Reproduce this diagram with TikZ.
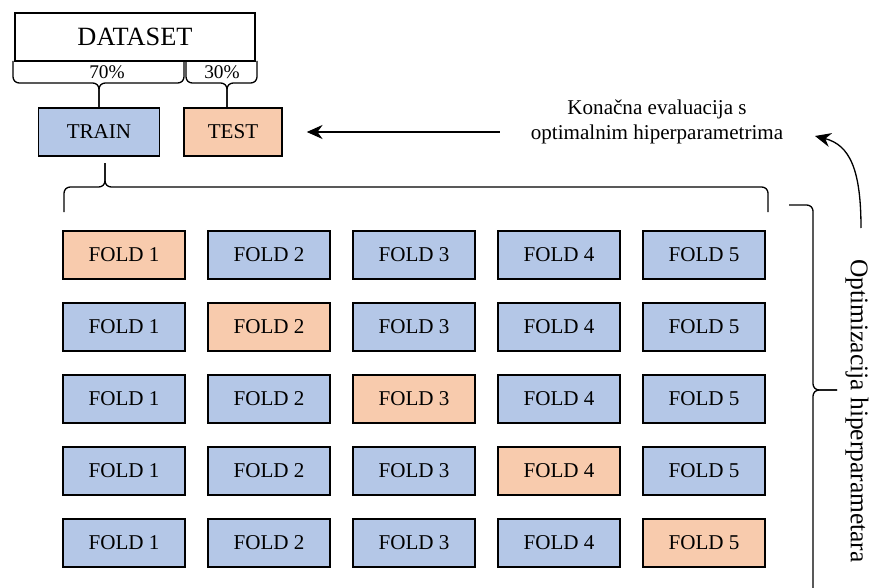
\documentclass[tikz,border=0pt]{standalone}
\usepackage{fontspec}
\setmainfont{Liberation Serif}
\usetikzlibrary{arrows.meta}
\definecolor{trainblue}{HTML}{B4C7E7}
\definecolor{testorange}{HTML}{F8CBAD}
\begin{document}
\begin{tikzpicture}[x=0.02cm,y=-0.02cm,
		box/.style={draw,line width=0.9pt,minimum height=0.96cm,inner sep=0pt,font=\fontsize{12}{14.5}\selectfont},
		fold/.style={box,minimum width=2.44cm},
		brc/.style={line width=0.75pt,rounded corners=3.5pt},
		arr/.style={line width=0.75pt,-{Stealth[length=9pt,width=8pt]}}]
			\useasboundingbox (0,0) rectangle (872,588);
			\node[box,minimum width=4.8cm,font=\fontsize{15}{18}\selectfont] (data) at (135,37) {DATASET};
			\node[box,fill=trainblue,minimum width=2.42cm] (train) at (99,132) {TRAIN};
			\node[box,fill=testorange,minimum width=1.96cm] (test) at (233,132) {TEST};
			\draw[brc] (13,61) -- (13,83) -- (99,83) -- (train.north);
			\draw[brc] (train.north) -- (99,83) -- (184,83) -- (184,61);
			\draw[brc] (186,61) -- (186,83) -- (227,83) -- ([xshift=-0.12cm]test.north);
			\draw[brc] ([xshift=-0.12cm]test.north) -- (227,83) -- (257,83) -- (257,61);
			\node[font=\fontsize{11}{13}\selectfont] (p70) at (107,72) {70\%};
			\node[font=\fontsize{11}{13}\selectfont] (p30) at (222,72) {30\%};
			\draw[brc] (64,212) -- (64,187) -- (105,187) -- (105,163);
			\draw[brc] (105,163) -- (105,187) -- (768,187) -- (768,212);
			\foreach \r in {1,...,5}
				\foreach \c in {1,...,5}{
					\ifnum\r=\c \def\clr{testorange}\else\def\clr{trainblue}\fi
					\node[fold,fill=\clr] (f\r\c) at ({124+145*(\c-1)},{255+72*(\r-1)}) {FOLD \c};
				}
			\draw[brc] (789,205) -- (813,205) -- (813,390) -- (837,390);
			\draw[brc] (837,390) -- (813,390) -- (813,600);
			\node[rotate=-90,font=\fontsize{14.5}{17}\selectfont] (opt) at (857,411) {Optimizacija hiperparametara};
			\node[align=center,font=\fontsize{12}{14.5}\selectfont] (eval) at (657,122) {Konačna evaluacija s\\optimalnim hiperparametrima};
			\draw[arr] (eval.west |- test.east) ++(-0.5cm,0) -- ([xshift=0.48cm]test.east);
			\coordinate (optup) at (861,228);
			\coordinate (evalend) at (815,136);
			\draw[arr] (optup) .. controls (861,170) and (850,145) .. (evalend);
		\end{tikzpicture}
\end{document}
